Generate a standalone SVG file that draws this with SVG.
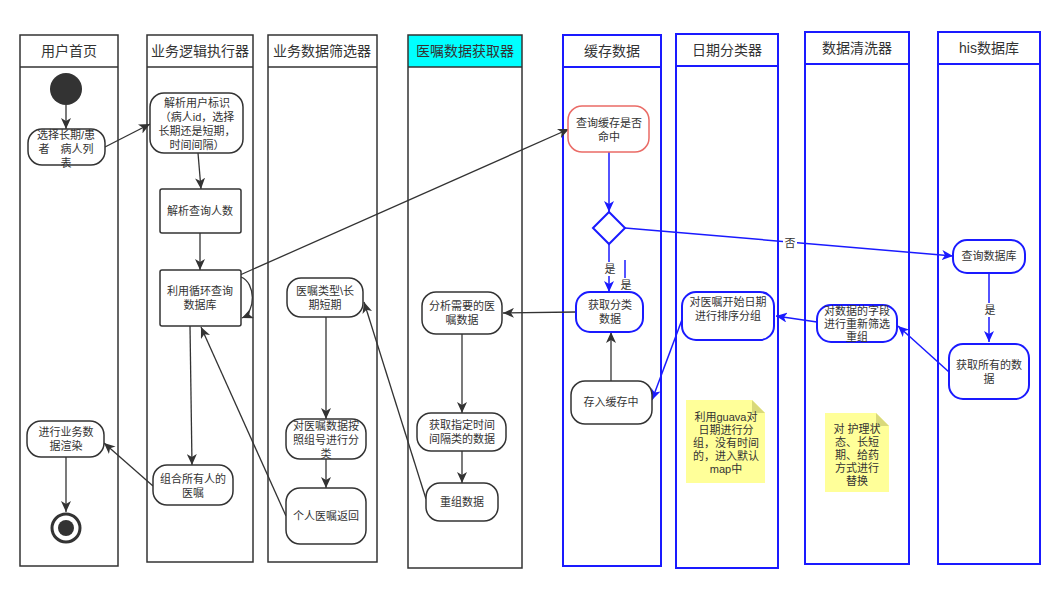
<svg xmlns="http://www.w3.org/2000/svg" width="1052" height="589" viewBox="0 0 1052 589">
<style>
text{font-family:"Liberation Sans","Noto Sans CJK SC",sans-serif;fill:#333;text-anchor:middle}
.hd{font-size:14px}
.t{font-size:11px}
.lane{fill:none;stroke:#333;stroke-width:1.5}
.laneb{fill:none;stroke:#1a1aff;stroke-width:2}
.n{fill:#fff;stroke:#333;stroke-width:1.5}
.nb{fill:#fff;stroke:#1a1aff;stroke-width:2}
.c{fill:none;stroke:#333;stroke-width:1.3}
.cb{fill:none;stroke:#1a1aff;stroke-width:1.5}
.note{fill:#ffff99;stroke:none}
.fold{fill:#d9d97a;stroke:none}
</style>
<defs>
<marker id="a" markerUnits="userSpaceOnUse" markerWidth="12" markerHeight="10" refX="11" refY="5" orient="auto"><path d="M0,0 L11,5 L0,10 L3,5 z" fill="#333"/></marker>
<marker id="ab" markerUnits="userSpaceOnUse" markerWidth="12" markerHeight="10" refX="11" refY="5" orient="auto"><path d="M0,0 L11,5 L0,10 L3,5 z" fill="#1a1aff"/></marker>
</defs>
<rect width="1052" height="589" fill="#fff"/>
<g id="lanes">
<g id="lane1"><rect class="lane" x="20" y="35" width="98" height="531"/><line class="lane" x1="20" y1="67" x2="118" y2="67"/><text class="hd" x="69" y="56">用户首页</text></g>
<g id="lane2"><rect class="lane" x="147" y="35" width="106" height="527"/><line class="lane" x1="147" y1="67" x2="253" y2="67"/><text class="hd" x="200" y="56">业务逻辑执行器</text></g>
<g id="lane3"><rect class="lane" x="268" y="35" width="109" height="527"/><line class="lane" x1="268" y1="67" x2="377" y2="67"/><text class="hd" x="322" y="56">业务数据筛选器</text></g>
<g id="lane4"><rect x="408" y="35" width="114" height="32" fill="#00ffff"/><rect class="lane" x="408" y="35" width="114" height="533"/><line class="lane" x1="408" y1="67" x2="522" y2="67"/><text class="hd" x="465" y="56">医嘱数据获取器</text></g>
<g id="lane5"><rect class="laneb" x="563" y="35" width="98" height="531"/><line class="laneb" x1="563" y1="67" x2="661" y2="67"/><text class="hd" x="612" y="56">缓存数据</text></g>
<g id="lane6"><rect class="laneb" x="676" y="34" width="102" height="534"/><line class="laneb" x1="676" y1="66" x2="778" y2="66"/><text class="hd" x="727" y="55">日期分类器</text></g>
<g id="lane7"><rect class="laneb" x="805" y="32" width="104" height="532"/><line class="laneb" x1="805" y1="64" x2="909" y2="64"/><text class="hd" x="857" y="53">数据清洗器</text></g>
<g id="lane8"><rect class="laneb" x="938" y="32" width="102" height="532"/><line class="laneb" x1="938" y1="64" x2="1040" y2="64"/><text class="hd" x="989" y="53">his数据库</text></g>
</g>
<g id="connectors">
<line class="c" x1="66" y1="105" x2="66" y2="129" marker-end="url(#a)"/>
<line class="c" x1="105" y1="147" x2="150" y2="124" marker-end="url(#a)"/>
<line class="c" x1="198" y1="153" x2="201" y2="189" marker-end="url(#a)"/>
<line class="c" x1="200" y1="233" x2="200" y2="270" marker-end="url(#a)"/>
<path class="c" d="M241,277 C256,283 256,312 242,318" marker-end="url(#a)"/>
<line class="c" x1="190" y1="326" x2="192" y2="465" marker-end="url(#a)"/>
<line class="c" x1="153" y1="486" x2="104" y2="443" marker-end="url(#a)"/>
<line class="c" x1="66" y1="457" x2="66" y2="512" marker-end="url(#a)"/>
<line class="c" x1="240" y1="275" x2="569" y2="129" marker-end="url(#a)"/>
<line class="c" x1="286" y1="516" x2="201" y2="327" marker-end="url(#a)"/>
<line class="c" x1="326" y1="317" x2="326" y2="419" marker-end="url(#a)"/>
<line class="c" x1="326" y1="459" x2="326" y2="488" marker-end="url(#a)"/>
<line class="c" x1="462" y1="334" x2="462" y2="413" marker-end="url(#a)"/>
<line class="c" x1="462" y1="451" x2="462" y2="483" marker-end="url(#a)"/>
<line class="c" x1="426" y1="499" x2="364" y2="302" marker-end="url(#a)"/>
<line class="c" x1="576" y1="312" x2="503" y2="313" marker-end="url(#a)"/>
<line class="c" x1="611" y1="381" x2="611" y2="332" marker-end="url(#a)"/>
<line class="cb" x1="609" y1="152" x2="609" y2="212" marker-end="url(#ab)"/>
<line class="cb" x1="625" y1="228" x2="953" y2="256" marker-end="url(#ab)"/>
<rect x="783" y="235" width="14" height="15" fill="#fff"/>
<text class="t" x="790" y="247">否</text>
<line class="cb" x1="609" y1="244" x2="609" y2="292" marker-end="url(#ab)"/>
<rect x="603" y="262" width="14" height="14" fill="#fff"/>
<text class="t" x="610" y="273">是</text>
<line class="cb" x1="625" y1="260" x2="625" y2="307" marker-end="url(#ab)"/>
<rect x="619" y="278" width="14" height="14" fill="#fff"/>
<text class="t" x="626" y="289">是</text>
<line class="cb" x1="989" y1="273" x2="989" y2="342" marker-end="url(#ab)"/>
<rect x="982" y="303" width="14" height="14" fill="#fff"/>
<text class="t" x="990" y="314">是</text>
<line class="cb" x1="949" y1="372" x2="898" y2="326" marker-end="url(#ab)"/>
<line class="cb" x1="817" y1="322" x2="776" y2="316" marker-end="url(#ab)"/>
<line class="cb" x1="683" y1="317" x2="652" y2="400" marker-end="url(#ab)"/>
</g>
<g id="start"><circle cx="66" cy="89" r="16" fill="#333"/></g>
<g id="n1"><rect class="n" x="28" y="129" width="77" height="36" rx="14"/><text class="t"><tspan x="66" y="139">选择长期/患</tspan><tspan x="66" y="153">者　病人列</tspan><tspan x="66" y="167">表</tspan></text></g>
<g id="n2"><rect class="n" x="150" y="93" width="93" height="60" rx="14"/><text class="t"><tspan x="197" y="107">解析用户标识</tspan><tspan x="197" y="121">（病人id，选择</tspan><tspan x="197" y="135">长期还是短期，</tspan><tspan x="197" y="149">时间间隔）</tspan></text></g>
<g id="n3"><rect class="n" x="160" y="189" width="81" height="44" rx="2"/><text class="t" x="200" y="215">解析查询人数</text></g>
<g id="n4"><rect class="n" x="160" y="270" width="81" height="56" rx="2"/><text class="t"><tspan x="200" y="295">利用循环查询</tspan><tspan x="200" y="309">数据库</tspan></text></g>
<g id="n5"><rect class="n" x="153" y="465" width="80" height="40" rx="14"/><text class="t"><tspan x="193" y="483">组合所有人的</tspan><tspan x="193" y="497">医嘱</tspan></text></g>
<g id="n6"><rect class="n" x="27" y="421" width="77" height="36" rx="14"/><text class="t"><tspan x="66" y="436">进行业务数</tspan><tspan x="66" y="450">据渲染</tspan></text></g>
<g id="end"><circle cx="66" cy="528" r="14" fill="#fff" stroke="#333" stroke-width="3"/><circle cx="66" cy="528" r="8" fill="#333"/></g>
<g id="n7"><rect class="n" x="287" y="278" width="76" height="39" rx="14"/><text class="t"><tspan x="325" y="295">医嘱类型\长</tspan><tspan x="325" y="309">期短期</tspan></text></g>
<g id="n8"><rect class="n" x="286" y="419" width="80" height="40" rx="14"/><text class="t"><tspan x="326" y="430">对医嘱数据按</tspan><tspan x="326" y="444">照组号进行分</tspan><tspan x="326" y="458">类</tspan></text></g>
<g id="n9"><rect class="n" x="286" y="488" width="80" height="56" rx="14"/><text class="t" x="326" y="520">个人医嘱返回</text></g>
<g id="n10"><rect class="n" x="422" y="292" width="80" height="42" rx="14"/><text class="t"><tspan x="462" y="310">分析需要的医</tspan><tspan x="462" y="324">嘱数据</tspan></text></g>
<g id="n11"><rect class="n" x="417" y="413" width="89" height="38" rx="14"/><text class="t"><tspan x="462" y="429">获取指定时间</tspan><tspan x="462" y="443">间隔类的数据</tspan></text></g>
<g id="n12"><rect class="n" x="426" y="483" width="72" height="38" rx="14"/><text class="t" x="462" y="506">重组数据</text></g>
<g id="n13"><rect x="568" y="106" width="81" height="46" rx="14" fill="#fff" stroke="#ea6b66" stroke-width="1.5"/><text class="t"><tspan x="609" y="127">查询缓存是否</tspan><tspan x="609" y="141">命中</tspan></text></g>
<g id="dec"><path d="M593,228 L609,212 L625,228 L609,244 Z" fill="#fff" stroke="#1a1aff" stroke-width="2"/></g>
<g id="n14"><rect class="nb" x="576" y="292" width="67" height="40" rx="14"/><text class="t"><tspan x="610" y="309">获取分类</tspan><tspan x="610" y="323">数据</tspan></text></g>
<g id="n15"><rect class="n" x="571" y="381" width="81" height="43" rx="14"/><text class="t" x="611" y="406">存入缓存中</text></g>
<g id="n16"><rect class="nb" x="682" y="292" width="92" height="48" rx="14"/><text class="t"><tspan x="728" y="306">对医嘱开始日期</tspan><tspan x="728" y="320">进行排序分组</tspan></text></g>
<g id="note1"><path class="note" d="M686,400 L752,400 L765,413 L765,483 L686,483 Z"/><path class="fold" d="M752,400 L765,413 L752,413 Z"/><text class="t"><tspan x="726" y="421">利用guava对</tspan><tspan x="726" y="434">日期进行分</tspan><tspan x="726" y="447">组，没有时间</tspan><tspan x="726" y="460">的，进入默认</tspan><tspan x="726" y="473">map中</tspan></text></g>
<g id="n17"><rect class="nb" x="817" y="305" width="80" height="37" rx="14"/><text class="t"><tspan x="857" y="315">对数据的字段</tspan><tspan x="857" y="328">进行重新筛选</tspan><tspan x="857" y="341">重组</tspan></text></g>
<g id="note2"><path class="note" d="M825,413 L876,413 L889,426 L889,492 L825,492 Z"/><path class="fold" d="M876,413 L889,426 L876,426 Z"/><text class="t"><tspan x="857" y="433">对 护理状</tspan><tspan x="857" y="446">态、长短</tspan><tspan x="857" y="459">期、给药</tspan><tspan x="857" y="472">方式进行</tspan><tspan x="857" y="485">替换</tspan></text></g>
<g id="n18"><rect class="nb" x="953" y="240" width="72" height="33" rx="14"/><text class="t" x="989" y="260">查询数据库</text></g>
<g id="n19"><rect class="nb" x="949" y="344" width="80" height="55" rx="14"/><text class="t"><tspan x="989" y="369">获取所有的数</tspan><tspan x="989" y="383">据</tspan></text></g>
</svg>
